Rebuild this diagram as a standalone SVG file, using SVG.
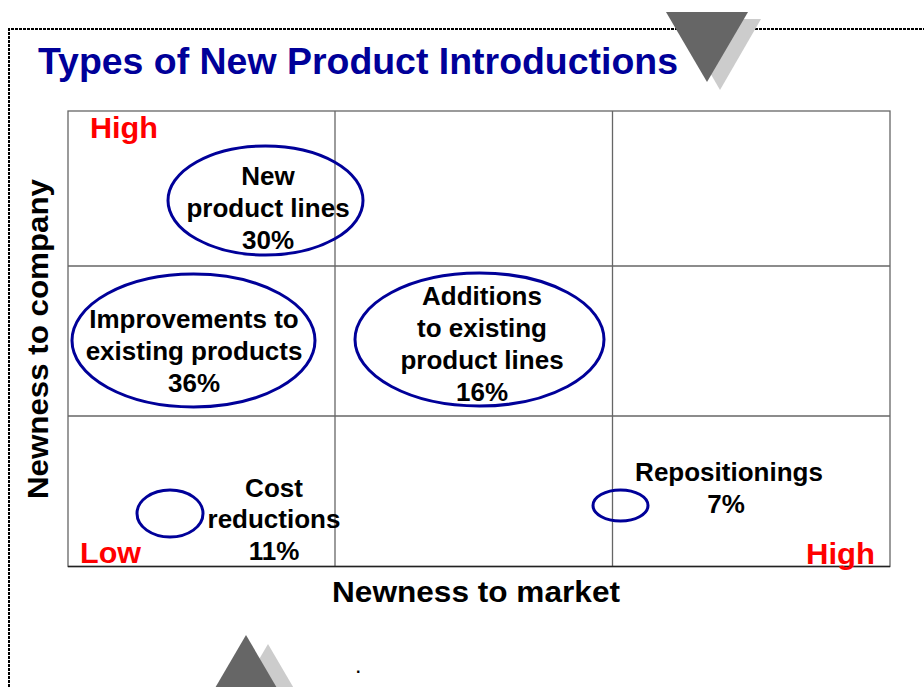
<svg xmlns="http://www.w3.org/2000/svg" width="924" height="687" viewBox="0 0 924 687">
<style>
.t{font-family:"Liberation Sans",Arial,sans-serif;font-weight:bold;font-size:26px;fill:#000;text-anchor:middle}
.red{font-family:"Liberation Sans",Arial,sans-serif;font-weight:bold;font-size:30px;fill:#ff0000}
.ax{font-family:"Liberation Sans",Arial,sans-serif;font-weight:bold;font-size:30px;fill:#000;text-anchor:middle}
.ell{fill:none;stroke:#000099;stroke-width:3}
.grid{stroke:#666;stroke-width:1.3;fill:none}
.dark{fill:#666}
.light{fill:#cccccc}
</style>
<rect width="924" height="687" fill="#fff"/>
<g id="frame">
<path d="M9 687 V29 H924" fill="none" stroke="#000" stroke-width="2" stroke-dasharray="3 1" shape-rendering="crispEdges"/>
</g>
<g id="deco-top">
<polygon class="light" points="679,19 761,19 720,90"/>
<polygon class="dark" points="666,12 748,12 707,82"/>
</g>
<g id="deco-bottom">
<polygon class="light" points="268,644 306,709 230,709"/>
<polygon class="dark" points="246,635 291,712 201,712"/>
</g>
<text id="title" x="38" y="74" font-family="'Liberation Sans',Arial,sans-serif" font-weight="bold" font-size="36" fill="#000099" textLength="640" lengthAdjust="spacingAndGlyphs">Types of New Product Introductions</text>
<g id="grid">
<rect class="grid" x="68" y="111" width="822" height="455.5"/>
<line class="grid" x1="335" y1="111" x2="335" y2="566.5"/>
<line class="grid" x1="612.5" y1="111" x2="612.5" y2="566.5"/>
<line class="grid" x1="68" y1="266" x2="890" y2="266"/>
<line class="grid" x1="68" y1="416" x2="890" y2="416"/>
<line x1="68" y1="566.5" x2="890" y2="566.5" stroke="#222" stroke-width="1.5"/>
</g>
<g id="axis-labels">
<text class="ax" x="476" y="602" textLength="288" lengthAdjust="spacingAndGlyphs">Newness to market</text>
<text class="ax" transform="translate(48,339) rotate(-90)" x="0" y="0" font-size="28" textLength="320" lengthAdjust="spacingAndGlyphs">Newness to company</text>
<text class="red" x="90" y="138" textLength="68" lengthAdjust="spacingAndGlyphs">High</text>
<text class="red" x="80" y="563" textLength="61" lengthAdjust="spacingAndGlyphs">Low</text>
<text class="red" x="806" y="564" textLength="69" lengthAdjust="spacingAndGlyphs">High</text>
</g>
<g id="connectors"></g>
<g id="node-new-product-lines">
<ellipse class="ell" cx="265.5" cy="200.5" rx="97.5" ry="54.5"/>
<text class="t" x="268" y="185">New</text>
<text class="t" x="268" y="217">product lines</text>
<text class="t" x="268" y="249">30%</text>
</g>
<g id="node-improvements">
<ellipse class="ell" cx="193.5" cy="340.5" rx="121.5" ry="66.5"/>
<text class="t" x="194" y="328">Improvements to</text>
<text class="t" x="194" y="360">existing products</text>
<text class="t" x="194" y="392">36%</text>
</g>
<g id="node-additions">
<ellipse class="ell" cx="479.5" cy="339.5" rx="124.5" ry="66.5"/>
<text class="t" x="482" y="305">Additions</text>
<text class="t" x="482" y="337">to existing</text>
<text class="t" x="482" y="369">product lines</text>
<text class="t" x="482" y="401">16%</text>
</g>
<g id="node-cost-reductions">
<ellipse class="ell" cx="170" cy="513.5" rx="33" ry="23.5"/>
<text class="t" x="274" y="497">Cost</text>
<text class="t" x="274" y="528">reductions</text>
<text class="t" x="274" y="560">11%</text>
</g>
<g id="node-repositionings">
<ellipse class="ell" cx="620.5" cy="505.5" rx="27.5" ry="15.5"/>
<text class="t" x="729" y="481">Repositionings</text>
<text class="t" x="726" y="513">7%</text>
</g>
<text x="356" y="673" font-family="'Liberation Sans',Arial,sans-serif" font-weight="bold" font-size="16" fill="#000">.</text>
</svg>
